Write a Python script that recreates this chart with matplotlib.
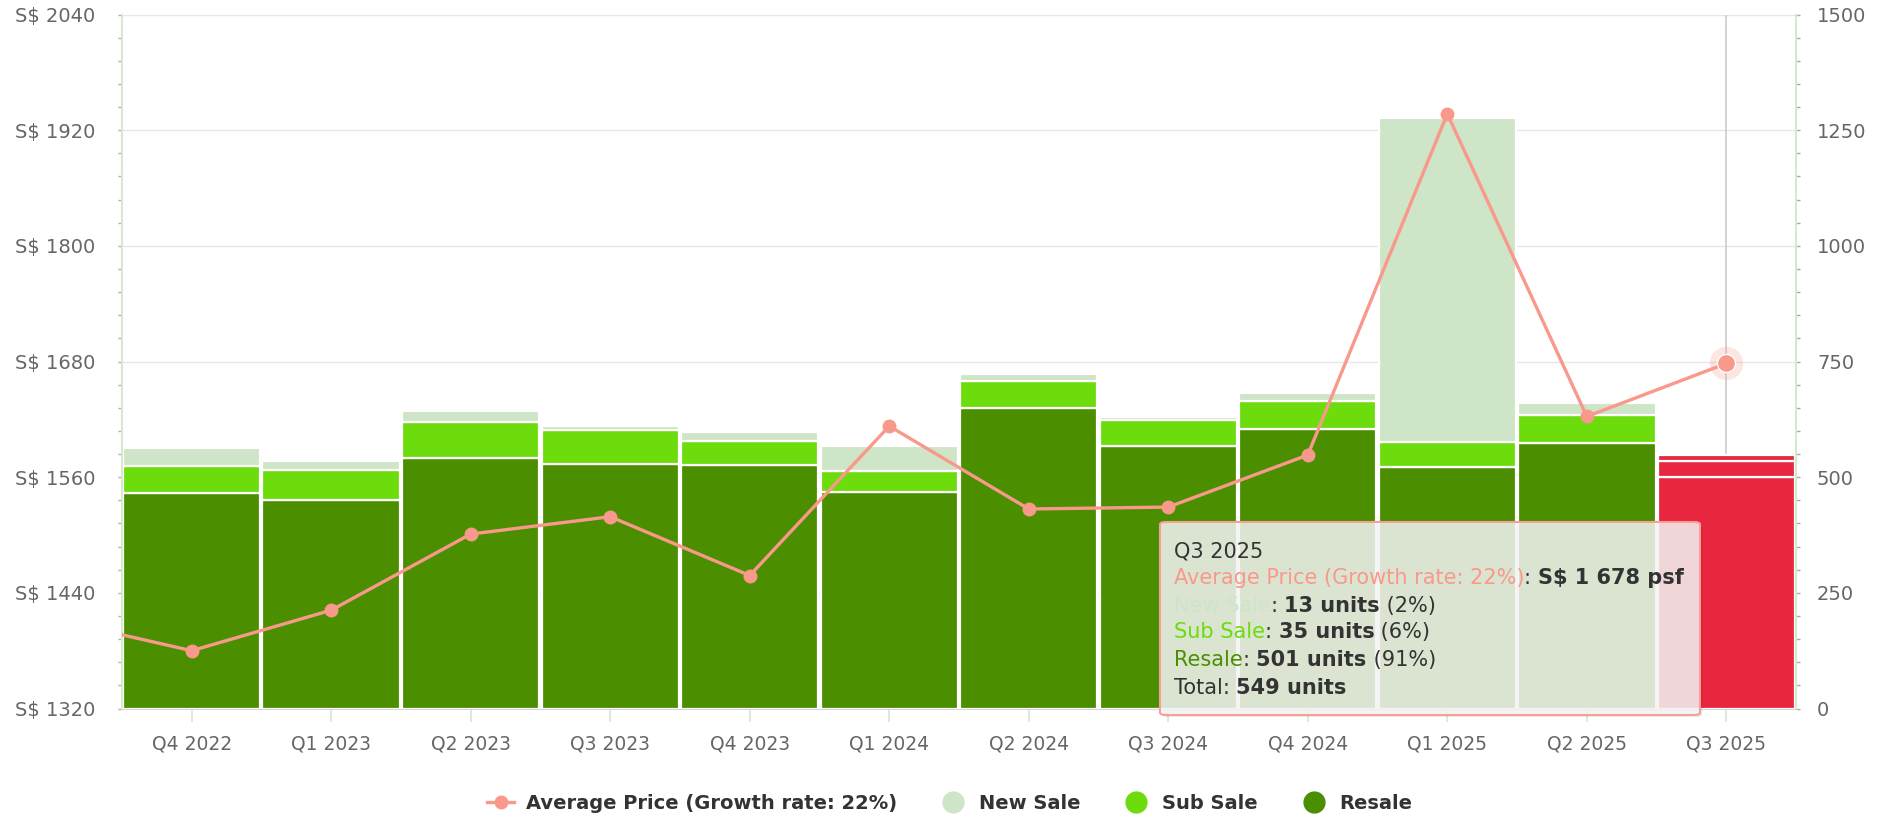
import numpy as np
import matplotlib.pyplot as plt
from matplotlib.lines import Line2D
from matplotlib.patches import FancyBboxPatch
from matplotlib.ticker import MultipleLocator, FuncFormatter

#-data
quarters = ["Q4 2022", "Q1 2023", "Q2 2023", "Q3 2023", "Q4 2023", "Q1 2024",
            "Q2 2024", "Q3 2024", "Q4 2024", "Q1 2025", "Q2 2025", "Q3 2025"]
new_sale = [39, 18, 24, 8, 18, 55, 16, 8, 18, 701, 26, 13]
sub_sale = [58, 66, 78, 73, 53, 44, 58, 55, 60, 55, 61, 35]
resale = [466, 450, 542, 529, 526, 469, 649, 568, 605, 521, 573, 501]
avg_price = [1380, 1422, 1501, 1519, 1458, 1613, 1527, 1529, 1583, 1937, 1623, 1678]
prev_price = 1413   # Q3 2022, only the line segment shows at the left edge
growth_rate = 22

c_new = "#cfe5c7"
c_sub = "#6ddc0c"
c_res = "#4b8f00"
c_line = "#f8998c"
c_hover = "#e8263f"
c_txt = "#666666"

fig = plt.figure(figsize=(18.99, 8.21), dpi=100)
ax = fig.add_axes([0.0642, 0.137, 0.8816, 0.8453])
axp = ax.twinx()

n = len(quarters)
x = np.arange(n)
hl = n - 1   # hovered point

def seg_colors(c):
    return [c] * (n - 1) + [c_hover]

res = np.array(resale)
sub = np.array(sub_sale)
new = np.array(new_sale)
ax.bar(x, res, width=0.985, color=seg_colors(c_res), edgecolor="white", lw=1.6, zorder=2)
ax.bar(x, sub, bottom=res, width=0.985, color=seg_colors(c_sub), edgecolor="white", lw=1.6, zorder=2)
ax.bar(x, new, bottom=res + sub, width=0.985, color=seg_colors(c_new), edgecolor="white", lw=1.6, zorder=2)

ax.axvline(hl, color="#cccccc", lw=1.2, zorder=1.5)

ax.set_xlim(-0.5, n - 0.5)
ax.set_ylim(0, 1500)
ax.yaxis.set_major_locator(MultipleLocator(250))
ax.yaxis.set_minor_locator(MultipleLocator(50))
ax.yaxis.tick_right()
ax.grid(axis="y", color="#e6e6e6", lw=1)
ax.set_axisbelow(True)
ax.set_xticks(x)
ax.set_xticklabels(quarters)
ax.tick_params(axis="x", length=9, width=1.2, colors="#d6e8d0", labelsize=13.5, pad=10)
for lab in ax.get_xticklabels():
    lab.set_color(c_txt)
ax.tick_params(axis="y", which="both", length=3, width=1, color="#aaaaaa", labelcolor=c_txt,
               labelsize=14, pad=12)

#-price line on the left axis
xp = np.concatenate([[-1], x])
yp = np.concatenate([[prev_price], avg_price])
axp.plot(xp, yp, color=c_line, lw=2.4, marker="o", ms=9, mec=c_line, mfc=c_line, zorder=5, clip_on=True)
axp.plot(hl, avg_price[hl], "o", ms=24, color=c_line, alpha=0.25, mew=0, zorder=5)
axp.plot(hl, avg_price[hl], "o", ms=13, color=c_line, mec="white", mew=1, zorder=6)
axp.set_ylim(1320, 2040)
axp.yaxis.set_major_locator(MultipleLocator(120))
axp.yaxis.set_minor_locator(MultipleLocator(24))
axp.yaxis.tick_left()
axp.yaxis.set_major_formatter(FuncFormatter(lambda v, p: "S$ %d" % v))
axp.tick_params(axis="y", which="both", length=3, width=1, color="#aaaaaa", labelcolor=c_txt,
                labelsize=14, pad=16)

for a in (ax, axp):
    for s in a.spines.values():
        s.set_visible(False)
axp.spines["left"].set_visible(True)
axp.spines["left"].set_color("#d6ead0")
axp.spines["left"].set_linewidth(1.5)
ax.spines["right"].set_visible(True)
ax.spines["right"].set_color("#d6ead0")
ax.spines["right"].set_linewidth(1.5)
ax.spines["bottom"].set_visible(True)
ax.spines["bottom"].set_color("#d8d8d8")

#-tooltip for the hovered quarter
tot = resale[hl] + sub_sale[hl] + new_sale[hl]
bx0, by0, bx1, by1 = 1160 / 1899, 1 - 715 / 821, 1700 / 1899, 1 - 522 / 821
shadow = FancyBboxPatch((bx0 + 0.0012, by0 - 0.0025), bx1 - bx0, by1 - by0,
                        boxstyle="round,pad=0,rounding_size=0.003", transform=fig.transFigure,
                        facecolor=(0, 0, 0, 0.08), edgecolor="none", zorder=9, clip_on=False)
box = FancyBboxPatch((bx0, by0), bx1 - bx0, by1 - by0,
                     boxstyle="round,pad=0,rounding_size=0.003", transform=fig.transFigure,
                     facecolor=(0.965, 0.965, 0.965, 0.85), edgecolor="#f5a195", lw=1.5,
                     zorder=10, clip_on=False)
axp.add_patch(shadow)
axp.add_patch(box)

tip_fs = 15
tip_x = 1174 / 1899

def tip_line(y, parts):
    prev = None
    for s, color, weight in parts:
        if prev is None:
            prev = axp.text(tip_x, y, s, transform=fig.transFigure, color=color,
                            fontweight=weight, fontsize=tip_fs, va="center", ha="left", zorder=11)
        else:
            prev = axp.annotate(s, xy=(1, 0), xycoords=prev, va="bottom", ha="left",
                                color=color, fontweight=weight, fontsize=tip_fs,
                                annotation_clip=False, zorder=11)

def pct(v):
    return " (%d%%)" % round(100 * v / tot)

ys = [1 - v / 821 for v in (551, 578, 606, 632, 660, 688)]
tip_line(ys[0], [(quarters[hl], "#333333", "normal")])
tip_line(ys[1], [("Average Price (Growth rate: %d%%)" % growth_rate, c_line, "normal"),
                 (": ", "#333333", "normal"),
                 ("S$ {:,} psf".format(avg_price[hl]).replace(",", " "), "#333333", "bold")])
tip_line(ys[2], [("New Sale", c_new, "normal"), (": ", "#333333", "normal"),
                 ("%d units" % new_sale[hl], "#333333", "bold"), (pct(new_sale[hl]), "#333333", "normal")])
tip_line(ys[3], [("Sub Sale", c_sub, "normal"), (": ", "#333333", "normal"),
                 ("%d units" % sub_sale[hl], "#333333", "bold"), (pct(sub_sale[hl]), "#333333", "normal")])
tip_line(ys[4], [("Resale", c_res, "normal"), (": ", "#333333", "normal"),
                 ("%d units" % resale[hl], "#333333", "bold"), (pct(resale[hl]), "#333333", "normal")])
tip_line(ys[5], [("Total: ", "#333333", "normal"), ("%d units" % tot, "#333333", "bold")])

#-legend
handles = [
    Line2D([], [], color=c_line, lw=2.4, marker="o", ms=9),
    Line2D([], [], color=c_new, lw=0, marker="o", ms=15),
    Line2D([], [], color=c_sub, lw=0, marker="o", ms=15),
    Line2D([], [], color=c_res, lw=0, marker="o", ms=15),
]
labels = ["Average Price (Growth rate: %d%%)" % growth_rate, "New Sale", "Sub Sale", "Resale"]
leg = fig.legend(handles, labels, loc="center", bbox_to_anchor=(0.5, 0.021), ncol=4,
                 frameon=False, handlelength=1.4, handletextpad=0.6, columnspacing=2.2,
                 prop={"weight": "bold", "size": 14})
for t in leg.get_texts():
    t.set_color("#333333")

fig.savefig("out.png", dpi=100)
